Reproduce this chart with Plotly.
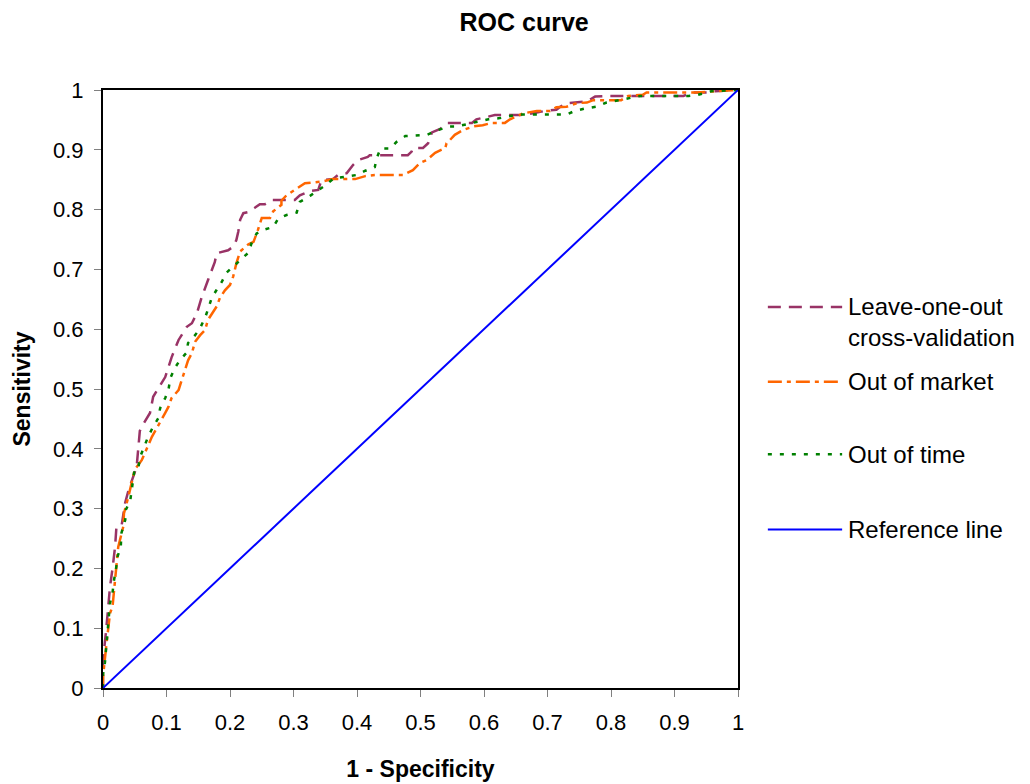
import plotly.graph_objects as go

# ---- data ----
loo_x = [0, 0.000, 0.005, 0.011, 0.015, 0.019, 0.021, 0.029, 0.035, 0.040,
         0.053, 0.056, 0.058, 0.061, 0.074, 0.079, 0.098, 0.108, 0.119, 0.132,
         0.140, 0.148, 0.155, 0.166, 0.176, 0.179, 0.197, 0.205, 0.210, 0.213,
         0.216, 0.221, 0.229, 0.239, 0.247, 0.255, 0.266, 0.302, 0.310, 0.326,
         0.339, 0.344, 0.362, 0.370, 0.384, 0.394, 0.402, 0.417, 0.420, 0.480,
         0.486, 0.488, 0.504, 0.512, 0.518, 0.531, 0.543, 0.581, 0.588, 0.617,
         0.657, 0.677, 0.696, 0.714, 0.720, 0.730, 0.762, 0.775, 0.793, 0.914,
         0.927, 0.951, 0.964, 1.000]
loo_y = [0, 0.047, 0.097, 0.169, 0.200, 0.236, 0.267, 0.270, 0.310, 0.330,
         0.370, 0.400, 0.430, 0.437, 0.460, 0.487, 0.520, 0.553, 0.582, 0.604,
         0.610, 0.627, 0.652, 0.684, 0.712, 0.727, 0.732, 0.738, 0.749, 0.763,
         0.783, 0.794, 0.796, 0.803, 0.809, 0.809, 0.816, 0.816, 0.824, 0.831,
         0.833, 0.849, 0.851, 0.858, 0.861, 0.875, 0.883, 0.888, 0.891, 0.891,
         0.897, 0.903, 0.903, 0.911, 0.929, 0.935, 0.945, 0.945, 0.951, 0.958,
         0.958, 0.961, 0.965, 0.967, 0.972, 0.978, 0.981, 0.989, 0.990, 0.990,
         0.996, 0.996, 0.998, 1.000]

oom_x = [0, 0.000, 0.005, 0.011, 0.015, 0.019, 0.021, 0.024, 0.032, 0.033,
         0.040, 0.045, 0.050, 0.061, 0.069, 0.077, 0.098, 0.103, 0.108, 0.119,
         0.124, 0.128, 0.134, 0.140, 0.145, 0.153, 0.161, 0.165, 0.173, 0.179,
         0.184, 0.192, 0.200, 0.205, 0.210, 0.216, 0.229, 0.237, 0.244, 0.250,
         0.263, 0.268, 0.281, 0.281, 0.289, 0.302, 0.318, 0.346, 0.362, 0.397,
         0.413, 0.428, 0.473, 0.488, 0.499, 0.510, 0.523, 0.539, 0.541, 0.546,
         0.554, 0.567, 0.583, 0.598, 0.612, 0.633, 0.641, 0.662, 0.683, 0.704,
         0.714, 0.730, 0.746, 0.762, 0.772, 0.816, 0.827, 0.850, 0.856, 0.935,
         0.961, 1.000]
oom_y = [0, 0.019, 0.069, 0.125, 0.136, 0.180, 0.203, 0.236, 0.270, 0.292,
         0.320, 0.342, 0.365, 0.381, 0.401, 0.420, 0.460, 0.470, 0.485, 0.498,
         0.515, 0.529, 0.548, 0.560, 0.579, 0.590, 0.599, 0.615, 0.629, 0.638,
         0.652, 0.665, 0.674, 0.688, 0.710, 0.730, 0.742, 0.746, 0.766, 0.786,
         0.786, 0.797, 0.808, 0.815, 0.824, 0.833, 0.844, 0.847, 0.851, 0.851,
         0.856, 0.858, 0.858, 0.866, 0.878, 0.883, 0.895, 0.903, 0.911, 0.916,
         0.925, 0.933, 0.939, 0.941, 0.945, 0.945, 0.951, 0.961, 0.965, 0.965,
         0.971, 0.972, 0.978, 0.979, 0.983, 0.983, 0.990, 0.992, 0.996, 0.996,
         0.998, 1.000]

oot_x = [0, 0.000, 0.003, 0.006, 0.008, 0.011, 0.015, 0.017, 0.021, 0.023,
         0.028, 0.029, 0.035, 0.036, 0.043, 0.047, 0.050, 0.056, 0.058, 0.071,
         0.079, 0.087, 0.090, 0.098, 0.103, 0.106, 0.113, 0.121, 0.131, 0.134,
         0.145, 0.153, 0.161, 0.166, 0.171, 0.179, 0.187, 0.194, 0.205, 0.216,
         0.229, 0.234, 0.242, 0.252, 0.268, 0.276, 0.289, 0.305, 0.310, 0.326,
         0.339, 0.352, 0.363, 0.400, 0.413, 0.428, 0.431, 0.437, 0.452, 0.462,
         0.476, 0.510, 0.525, 0.544, 0.557, 0.594, 0.607, 0.625, 0.654, 0.730,
         0.743, 0.759, 0.777, 0.793, 0.812, 0.827, 0.846, 0.922, 0.937, 0.958,
         1.000]
oot_y = [0, 0.022, 0.042, 0.080, 0.102, 0.142, 0.159, 0.178, 0.203, 0.220,
         0.236, 0.259, 0.281, 0.298, 0.314, 0.348, 0.368, 0.370, 0.385, 0.420,
         0.437, 0.451, 0.468, 0.485, 0.498, 0.518, 0.535, 0.548, 0.560, 0.577,
         0.590, 0.602, 0.620, 0.635, 0.652, 0.666, 0.679, 0.694, 0.705, 0.716,
         0.728, 0.744, 0.760, 0.766, 0.771, 0.785, 0.791, 0.795, 0.813, 0.823,
         0.832, 0.842, 0.852, 0.858, 0.865, 0.871, 0.886, 0.902, 0.902, 0.913,
         0.923, 0.925, 0.932, 0.939, 0.939, 0.947, 0.951, 0.953, 0.959, 0.959,
         0.965, 0.969, 0.972, 0.979, 0.983, 0.986, 0.990, 0.990, 0.992, 0.998,
         1.000]

ref_x = [0, 1]
ref_y = [0, 1]

tick_vals = [0, 0.1, 0.2, 0.3, 0.4, 0.5, 0.6, 0.7, 0.8, 0.9, 1]
tick_text = ["0", "0.1", "0.2", "0.3", "0.4", "0.5", "0.6", "0.7", "0.8", "0.9", "1"]

assert len(loo_x) == len(loo_y)
assert len(oom_x) == len(oom_y)
assert len(oot_x) == len(oot_y)

FONT = "Liberation Sans, Arial, sans-serif"

series = [
    ("Leave-one-out<br>cross-validation", loo_x, loo_y, "#993366", "13px,8px", 2.5),
    ("Out of market", oom_x, oom_y, "#FF6600", "14px,5px,4px,5px", 2.5),
    ("Out of time", oot_x, oot_y, "#008000", "4px,8px", 2.5),
    ("Reference line", ref_x, ref_y, "#0000FF", "solid", 2),
]

fig = go.Figure()
for name, xs, ys, color, dash, w in series:
    fig.add_trace(go.Scatter(x=xs, y=ys, mode="lines", name=name,
                             line=dict(color=color, dash=dash, width=w),
                             showlegend=False))

# custom legend (long line samples like the original)
leg_y = [0.637, 0.512, 0.391, 0.265]
for (name, xs, ys, color, dash, w), ly in zip(series, leg_y):
    fig.add_shape(type="line", xref="paper", yref="paper",
                  x0=1.047, x1=1.164, y0=ly, y1=ly,
                  line=dict(color=color, dash=dash, width=w))
    if "<br>" in name:
        fig.add_annotation(xref="paper", yref="paper", x=1.17, y=ly + 0.027,
                           xanchor="left", yanchor="top", align="left",
                           text=name, showarrow=False,
                           font=dict(family=FONT, size=24, color="black"))
    else:
        fig.add_annotation(xref="paper", yref="paper", x=1.17, y=ly,
                           xanchor="left", yanchor="middle", align="left",
                           text=name, showarrow=False,
                           font=dict(family=FONT, size=24, color="black"))

axis_common = dict(range=[0, 1], tickvals=tick_vals, ticktext=tick_text,
                   showgrid=False, zeroline=False, showline=True,
                   linecolor="black", linewidth=2, mirror=True,
                   automargin=False,
                   ticks="outside", ticklen=7, tickwidth=1, tickcolor="#808080",
                   tickfont=dict(family=FONT, size=22, color="black"))

fig.update_layout(
    width=1022, height=776,
    margin=dict(l=95, r=292, t=82, b=96),
    paper_bgcolor="white", plot_bgcolor="white",
    title=dict(text="<b>ROC curve</b>", x=0.505, xanchor="center",
               y=0.993, yanchor="top", pad=dict(t=0, b=0),
               font=dict(family=FONT, size=25, color="black")),
    xaxis=dict(title=dict(text="<b>1 - Specificity</b>", standoff=26,
                          font=dict(family=FONT, size=23, color="black")),
               ticklabelstandoff=7,
               **axis_common),
    yaxis=dict(title=dict(text="<b>Sensitivity</b>", standoff=16,
                          font=dict(family=FONT, size=23, color="black")),
               ticklabelstandoff=6,
               **axis_common),
    showlegend=False,
)

fig.write_html("out.html")
